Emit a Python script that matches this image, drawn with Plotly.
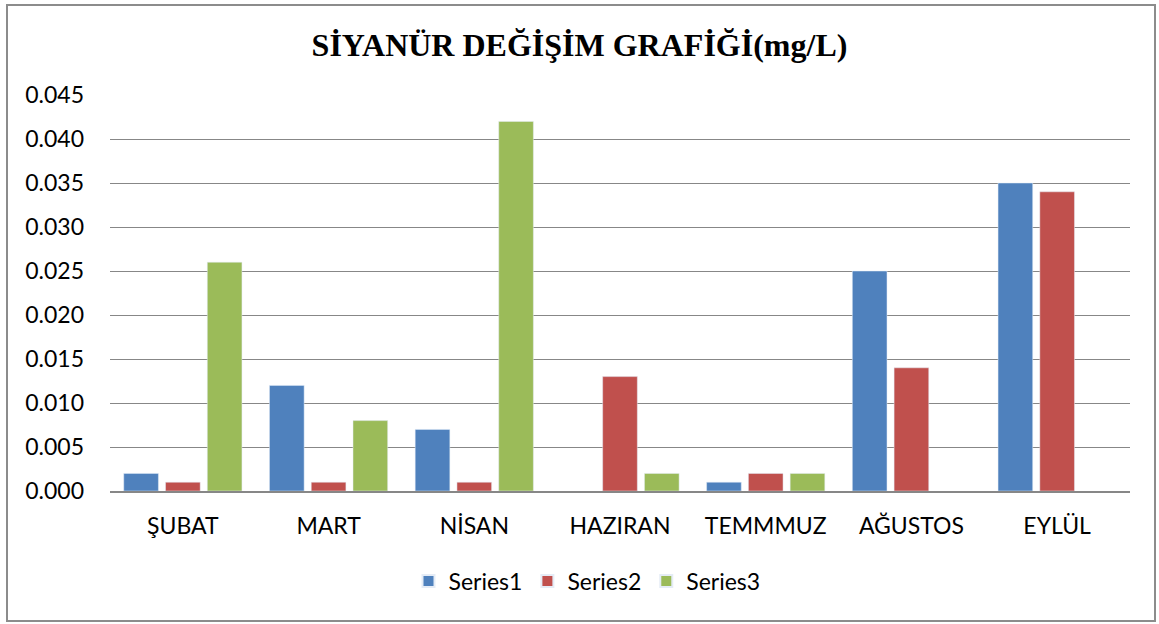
import plotly.graph_objects as go

categories = ["ŞUBAT", "MART", "NİSAN", "HAZIRAN", "TEMMMUZ", "AĞUSTOS", "EYLÜL"]
series1 = [0.002, 0.012, 0.007, None, 0.001, 0.025, 0.035]
series2 = [0.001, 0.001, 0.001, 0.013, 0.002, 0.014, 0.034]
series3 = [0.026, 0.008, 0.042, 0.002, 0.002, None, None]
series_names = ["Series1", "Series2", "Series3"]
colors = ["#4F81BD", "#C0504D", "#9BBB59"]
tick_vals = [i * 0.005 for i in range(10)]
tick_text = ["%.3f" % v for v in tick_vals]

fig = go.Figure()
for name, vals, col in zip(series_names, [series1, series2, series3], colors):
    fig.add_trace(go.Bar(x=categories, y=vals, name=name, marker_color=col))

fig.update_layout(
    width=1159, height=624,
    paper_bgcolor="white", plot_bgcolor="white",
    barmode="group", bargap=0.14, bargroupgap=0.17,
    margin=dict(l=110, r=29, t=95, b=133),
    title=dict(text="<b>SİYANÜR DEĞİŞİM GRAFİĞİ(mg/L)</b>",
               font=dict(family="Liberation Serif", size=32, color="black"),
               x=0.5, xanchor="center", y=1 - 45 / 624, yanchor="middle"),
    font=dict(family="Lato", size=23, color="black"),
    legend=dict(orientation="h", x=(587 - 110) / 1020, xanchor="center", y=-90 / 396,
                yanchor="middle", font=dict(family="Lato", size=23),
                itemsizing="constant", itemwidth=30),
    yaxis=dict(range=[0, 0.045], tickvals=tick_vals, ticktext=tick_text,
               showgrid=True, gridcolor="#878787", gridwidth=1.3,
               zeroline=False, showline=False, ticks="", ticklabelstandoff=25),
    xaxis=dict(showline=True, linecolor="#878787", linewidth=1.5, ticks="",
               showgrid=False, ticklabelstandoff=14),
    shapes=[dict(type="rect", xref="paper", yref="paper",
                 x0=-103 / 1020, x1=1 + 25 / 1020, y0=-130 / 396, y1=1 + 90 / 396,
                 line=dict(color="#8c8c8c", width=2), fillcolor="rgba(0,0,0,0)")],
)

fig.write_html("out.html", config={"displayModeBar": False},
               post_script="document.body.style.margin='0';")
